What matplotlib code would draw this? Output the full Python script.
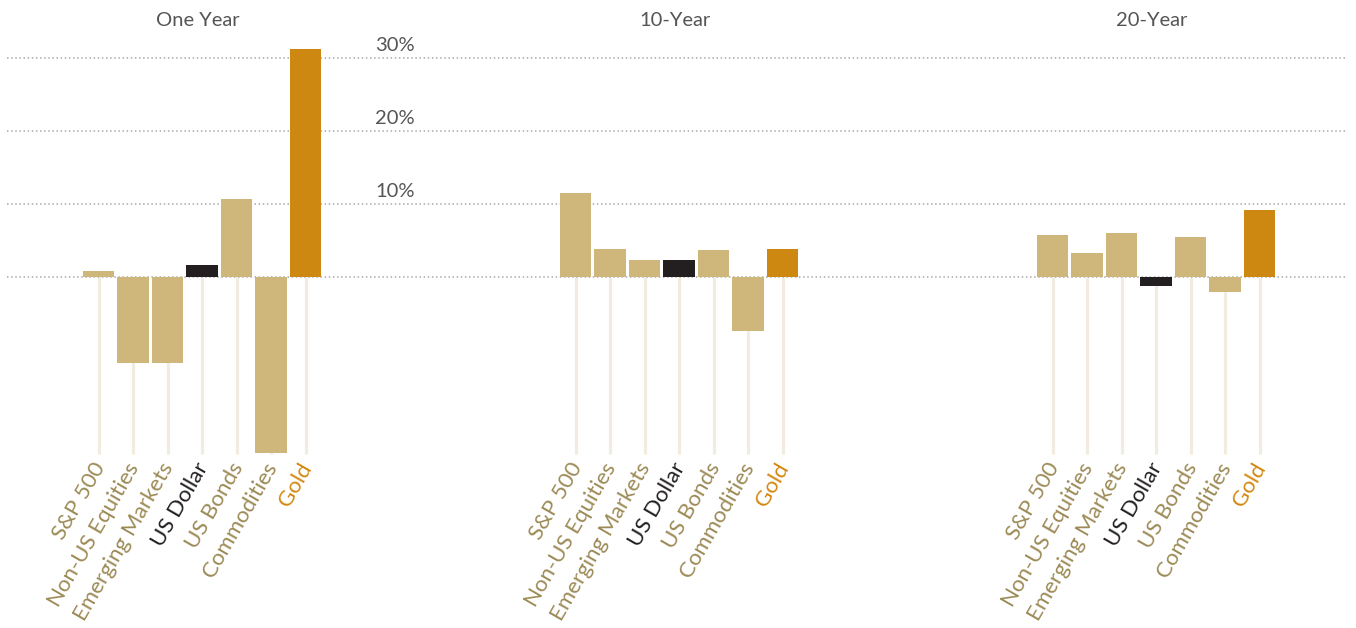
import matplotlib
matplotlib.use("Agg")
import matplotlib.pyplot as plt
import matplotlib.transforms as mtransforms
import numpy as np

categories = ["S&P 500", "Non-US Equities", "Emerging Markets", "US Dollar",
              "US Bonds", "Commodities", "Gold"]
periods = ["One Year", "10-Year", "20-Year"]
one_year = [0.8, -11.8, -11.8, 1.6, 10.6, -24.1, 31.2]
ten_year = [11.5, 3.8, 2.3, 2.3, 3.7, -7.4, 3.8]
twenty_year = [5.7, 3.25, 6.0, -1.3, 5.45, -2.1, 9.15]
yticks = [10, 20, 30]
ytick_labels = ["10%", "20%", "30%"]

TAN = "#cfb67b"
DARK = "#231f20"
GOLD = "#cd8812"
bar_colors = [TAN, TAN, TAN, DARK, TAN, TAN, GOLD]
label_colors = ["#9c8a56"] * 3 + [DARK, "#9c8a56", "#9c8a56", "#d4880f"]

plt.rcParams['font.family'] = ['Lato', 'DejaVu Sans']

W, H = 1356, 628
fig = plt.figure(figsize=(W / 100, H / 100), dpi=100)

# layout in pixels
x_left_px, x_right_px = 7, 1346
step_px = 34.5
first_px = 98.5
group_gap = 477 / step_px
zero_px, per10_px = 276.7, 73.0
ymin, ymax = -26.0, 34.0
top_px = zero_px - ymax * per10_px / 10
bot_px = zero_px - ymin * per10_px / 10
ax = fig.add_axes([x_left_px / W, 1 - bot_px / H,
                   (x_right_px - x_left_px) / W, (bot_px - top_px) / H])
xl = -(first_px - x_left_px) / step_px
xr = xl + (x_right_px - x_left_px) / step_px
ax.set_xlim(xl, xr)
ax.set_ylim(ymin, ymax)
ax.axis("off")

series = [one_year, ten_year, twenty_year]
stem_bottom = min(min(s) for s in series) - 0.2

for yv in [0] + yticks:
    ax.axhline(yv, color="#aaaaaa", lw=1.1, ls=(0, (1, 1.7)), zorder=1)

title_tr = mtransforms.blended_transform_factory(ax.transData, fig.transFigure)
for g, (name, vals) in enumerate(zip(periods, series)):
    xs = g * group_gap + np.arange(len(categories))
    ax.vlines(xs, stem_bottom, 0, color="#f2ebdf", lw=2.3, zorder=0.5)
    ax.bar(xs, vals, width=0.9, color=bar_colors, zorder=2)
    ax.text(xs.mean() - 0.12, 1 - 21 / H, name, transform=title_tr,
            ha="center", va="center", fontsize=14.5, color="#555555")
    for x, c, lc in zip(xs, categories, label_colors):
        ax.text(x + 0.3, stem_bottom - 0.7, c, rotation=60, ha="right", va="top",
                fontsize=16, color=lc)

for yv, lab in zip(yticks, ytick_labels):
    ax.text((395 - first_px) / step_px, yv + 1.7, lab, ha="center", va="center",
            fontsize=14.5, color="#555555")

fig.savefig("out.png", dpi=100, facecolor="white")
